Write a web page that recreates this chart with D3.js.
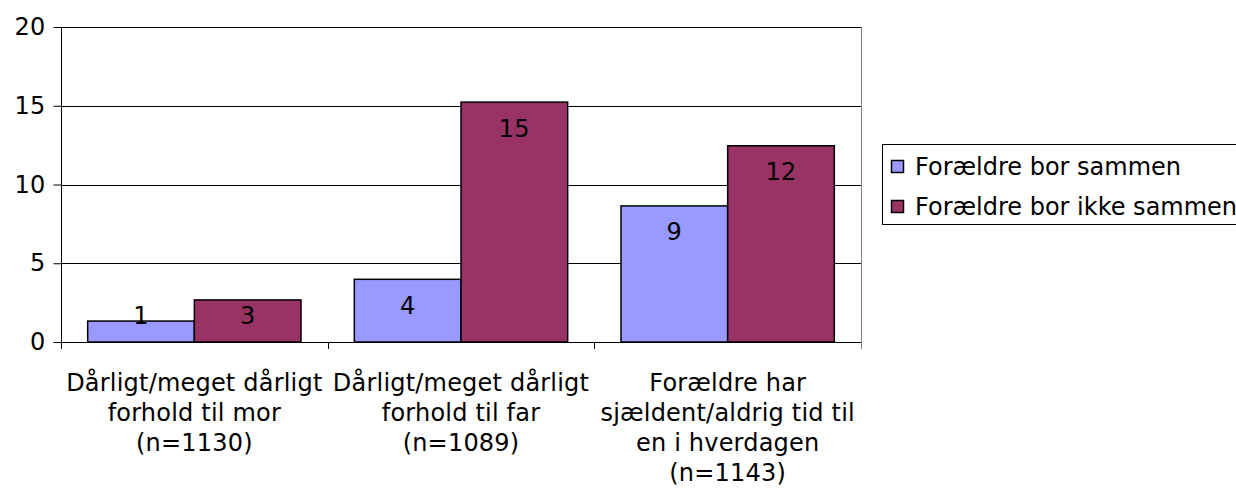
<!DOCTYPE html>
<html lang="da">
<head>
<meta charset="UTF-8">
<title>Forældre</title>
<script src="https://d3js.org/d3.v7.min.js"></script>
<style>
  body { margin: 0; background: #fff; }
  text { font-family: Verdana, "DejaVu Sans", sans-serif; font-size: 24px; letter-spacing: 0.2px; fill: #000; }
  .legend text { letter-spacing: 0; }
</style>
</head>
<body>
<svg width="1236" height="488"></svg>
<script>
// data
const categories = [
  ["Dårligt/meget dårligt", "forhold til mor", "(n=1130)"],
  ["Dårligt/meget dårligt", "forhold til far", "(n=1089)"],
  ["Forældre har", "sjældent/aldrig tid til", "en i hverdagen", "(n=1143)"]
];
const seriesNames = ["Forældre bor sammen", "Forældre bor ikke sammen"];
const sammen = [1.33, 3.98, 8.64];
const ikkeSammen = [2.67, 15.23, 12.46];
const yTicks = [0, 5, 10, 15, 20];

const colors = ["#9999ff", "#993366"];
const series = [sammen, ikkeSammen];

const svg = d3.select("svg");
const plotLeft = 61, plotRight = 861, plotTop = 27, plotBottom = 342;

const x = d3.scaleBand()
  .domain(d3.range(categories.length))
  .range([plotLeft, plotRight])
  .paddingInner(0.2)
  .paddingOuter(0.1);

const xs = d3.scaleBand()
  .domain(d3.range(series.length))
  .range([0, x.bandwidth()]);

const y = d3.scaleLinear().domain([0, 20]).range([plotBottom, plotTop]);

// plot frame
svg.append("rect")
  .attr("x", plotLeft + 0.5).attr("y", plotTop + 0.5)
  .attr("width", plotRight - plotLeft).attr("height", plotBottom - plotTop)
  .attr("fill", "none").attr("stroke", "#808080");

// gridlines
svg.append("g")
  .selectAll("line")
  .data(yTicks.filter(d => d > 0))
  .join("line")
  .attr("x1", plotLeft).attr("x2", plotRight)
  .attr("y1", d => Math.round(y(d)) + 0.5)
  .attr("y2", d => Math.round(y(d)) + 0.5)
  .attr("stroke", "#000");

// bars
series.forEach((vals, s) => {
  svg.append("g")
    .selectAll("rect")
    .data(vals)
    .join("rect")
    .attr("x", (d, i) => x(i) + xs(s))
    .attr("y", d => y(d))
    .attr("width", xs.bandwidth())
    .attr("height", d => y(0) - y(d))
    .attr("fill", colors[s])
    .attr("stroke", "#000")
    .attr("stroke-width", 1.5);

  svg.append("g")
    .selectAll("text")
    .data(vals)
    .join("text")
    .attr("x", (d, i) => x(i) + xs(s) + xs.bandwidth() / 2)
    .attr("y", d => Math.min(y(d) + 26, y(0) - 26))
    .attr("dy", "0.35em")
    .attr("text-anchor", "middle")
    .text(d => Math.round(d));
});

// y axis
const yAxis = svg.append("g")
  .attr("transform", `translate(${plotLeft + 0.5},0)`)
  .call(d3.axisLeft(y).tickValues(yTicks).tickSize(8).tickPadding(8));
yAxis.select(".domain").attr("d", `M0,${plotTop}V${plotBottom + 7}`);
yAxis.selectAll("text").style("font-size", "24px").style("font-family", null).attr("fill", "#000");
yAxis.selectAll("line").attr("stroke", "#000");

// x axis line and ticks between categories
const xg = svg.append("g");
xg.append("line")
  .attr("x1", plotLeft).attr("x2", plotRight + 1)
  .attr("y1", plotBottom + 0.5).attr("y2", plotBottom + 0.5)
  .attr("stroke", "#000");
xg.selectAll(".tk")
  .data(d3.range(categories.length + 1))
  .join("line")
  .attr("class", "tk")
  .attr("x1", i => Math.round(plotLeft + i * x.step()) + 0.5)
  .attr("x2", i => Math.round(plotLeft + i * x.step()) + 0.5)
  .attr("y1", plotBottom).attr("y2", plotBottom + 7)
  .attr("stroke", i => i === categories.length ? "#808080" : "#000");

// category labels
categories.forEach((lines, i) => {
  const t = svg.append("text")
    .attr("text-anchor", "middle")
    .attr("transform", `translate(${x(i) + x.bandwidth() / 2},391)`);
  lines.forEach((l, k) => {
    t.append("tspan").attr("x", 0).attr("y", k * 30).text(l);
  });
});

// legend
const lg = svg.append("g").attr("class", "legend").attr("transform", "translate(882,144)");
lg.append("rect")
  .attr("x", 0.5).attr("y", 0.5).attr("width", 400).attr("height", 80)
  .attr("fill", "#fff").attr("stroke", "#000");
seriesNames.forEach((name, s) => {
  const cy = 23 + s * 40;
  lg.append("rect")
    .attr("x", 9.5).attr("y", cy - 6.5).attr("width", 12).attr("height", 12)
    .attr("fill", colors[s]).attr("stroke", "#000").attr("stroke-width", 1.5);
  lg.append("text")
    .attr("x", 33).attr("y", cy).attr("dy", "0.35em")
    .text(name);
});
</script>
</body>
</html>
